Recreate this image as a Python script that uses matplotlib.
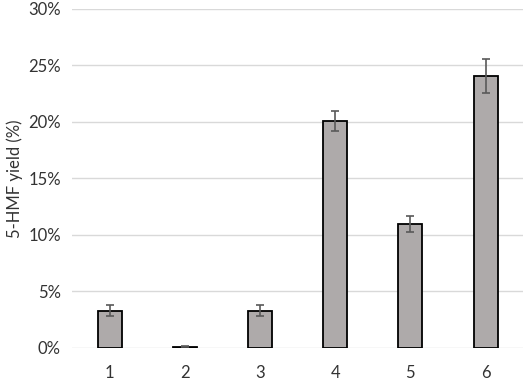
import matplotlib.pyplot as plt
import numpy as np
from matplotlib.ticker import PercentFormatter

plt.rcParams['font.family'] = ['Lato', 'DejaVu Sans']

runs = ['1', '2', '3', '4', '5', '6']
yield_pct = [3.3, 0.1, 3.3, 20.1, 11.0, 24.1]
yield_err = [0.5, 0.05, 0.5, 0.9, 0.7, 1.5]

fig = plt.figure(figsize=(5.29, 3.87), dpi=100)
ax = fig.add_axes([0.136, 0.1008, 0.853, 0.876])

x = np.arange(len(runs))
ax.bar(x, yield_pct, width=0.32, color='#AEAAAA', edgecolor='black', linewidth=1.3,
       yerr=yield_err, error_kw=dict(ecolor='#595959', elinewidth=1.2, capsize=3, capthick=1.2),
       zorder=3)

ax.set_xlim(-0.5, len(runs) - 0.5)
ax.set_ylim(0, 30)
ax.set_yticks(np.arange(0, 31, 5))
ax.yaxis.set_major_formatter(PercentFormatter(decimals=0))
ax.set_xticks(x)
ax.set_xticklabels(runs)
ax.grid(axis='y', color='#D9D9D9', linewidth=1.0, zorder=0)
for s in ax.spines.values():
    s.set_visible(False)
ax.tick_params(length=0, labelsize=12, colors='#333333', pad=8)
ax.tick_params(axis='x', pad=12)
ax.set_ylabel('5-HMF yield (%)', fontsize=12, color='#333333', labelpad=4)

plt.savefig('out.png', dpi=100)
